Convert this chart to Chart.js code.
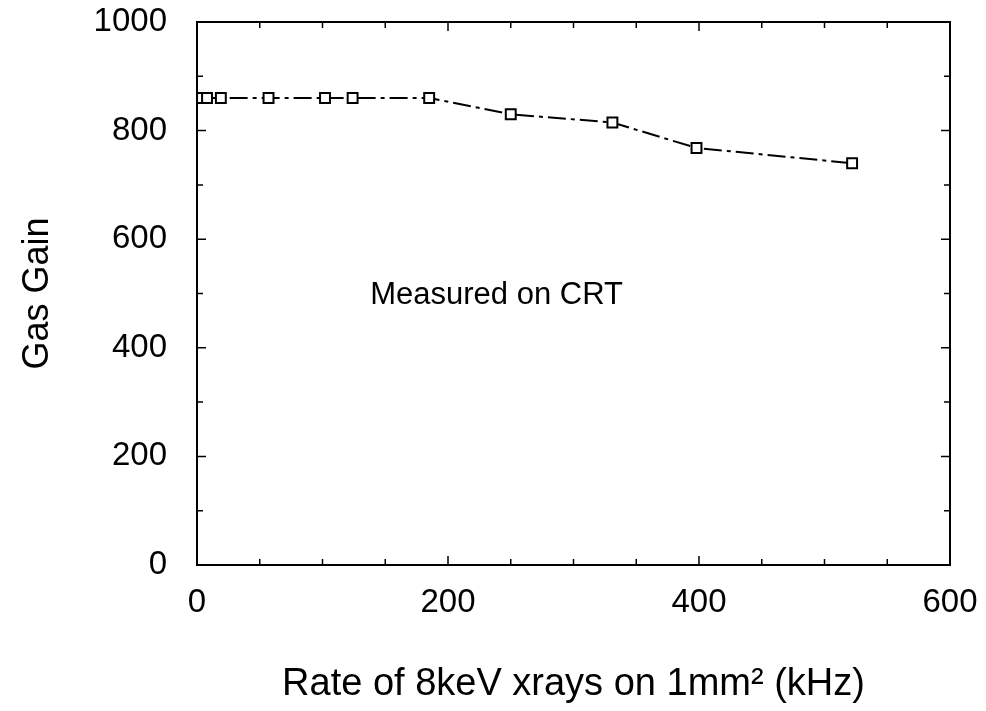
<!DOCTYPE html>
<html>
<head>
<meta charset="utf-8">
<script src="https://cdn.jsdelivr.net/npm/chart.js@4.4.1/dist/chart.umd.min.js"></script>
<style>
  html, body { margin: 0; padding: 0; background: #fff; }
  #wrap { width: 986px; height: 711px; }
</style>
</head>
<body>
<div id="wrap"><canvas id="chart" width="986" height="711"></canvas></div>
<script>
// data
const rates = [0.5, 2, 4, 8, 19, 57, 102, 124, 185, 250, 331, 398, 522];
const gains = [860, 860, 860, 860, 860, 860, 860, 860, 860, 830, 815, 768, 740];
const xTicks = [0, 200, 400, 600];
const yTicks = [0, 200, 400, 600, 800, 1000];

const FONT = '"Liberation Sans", Arial, sans-serif';

// frame + inward ticks on all four sides, plus the text note
const framePlugin = {
  id: 'frame',
  afterDraw(chart) {
    const { ctx, chartArea: a, scales } = chart;
    ctx.save();
    ctx.strokeStyle = '#000';
    ctx.lineWidth = 2;
    ctx.strokeRect(a.left, a.top, a.right - a.left, a.bottom - a.top);
    ctx.lineWidth = 1.5;
    ctx.beginPath();
    for (let v = 0; v <= 600; v += 50) {
      const px = scales.x.getPixelForValue(v);
      const len = v % 200 === 0 ? 9 : 6;
      ctx.moveTo(px, a.bottom); ctx.lineTo(px, a.bottom - len);
      ctx.moveTo(px, a.top); ctx.lineTo(px, a.top + len);
    }
    for (let v = 0; v <= 1000; v += 100) {
      const py = scales.y.getPixelForValue(v);
      const len = v % 200 === 0 ? 9 : 6;
      ctx.moveTo(a.left, py); ctx.lineTo(a.left + len, py);
      ctx.moveTo(a.right, py); ctx.lineTo(a.right - len, py);
    }
    ctx.stroke();

    ctx.fillStyle = '#000';
    ctx.font = '31px ' + FONT;
    ctx.textAlign = 'left';
    ctx.textBaseline = 'middle';
    ctx.fillText('Measured on CRT', scales.x.getPixelForValue(138), scales.y.getPixelForValue(497));
    ctx.restore();
  }
};

new Chart(document.getElementById('chart').getContext('2d'), {
  type: 'scatter',
  data: {
    datasets: [{
      data: rates.map((r, i) => ({ x: r, y: gains[i] })),
      showLine: true,
      borderColor: '#000',
      borderWidth: 2,
      borderDash: [18, 5, 4, 5],
      pointStyle: 'rect',
      pointRadius: 7,
      pointBorderWidth: 2,
      pointBorderColor: '#000',
      pointBackgroundColor: '#fff',
      tension: 0
    }]
  },
  options: {
    responsive: false,
    animation: false,
    layout: { padding: { top: 22, right: 36, left: 0, bottom: 0 } },
    plugins: { legend: { display: false }, tooltip: { enabled: false } },
    scales: {
      x: {
        type: 'linear',
        min: 0, max: 600,
        afterBuildTicks: s => { s.ticks = xTicks.map(v => ({ value: v })); },
        afterFit: s => { s.height = 146; s.paddingLeft = 0; s.paddingRight = 0; },
        grid: { display: false },
        border: { display: false },
        ticks: { color: '#000', font: { family: FONT, size: 33 }, padding: 10, callback: v => String(v) },
        title: {
          display: true,
          text: 'Rate of 8keV xrays on 1mm\u00B2 (kHz)',
          color: '#000',
          font: { family: FONT, size: 38 },
          padding: { top: 40 }
        }
      },
      y: {
        type: 'linear',
        min: 0, max: 1000,
        afterBuildTicks: s => { s.ticks = yTicks.map(v => ({ value: v })); },
        afterFit: s => { s.width = 197; s.paddingTop = 0; s.paddingBottom = 0; },
        grid: { display: false },
        border: { display: false },
        ticks: { color: '#000', font: { family: FONT, size: 33 }, padding: 22, callback: v => String(v) },
        title: {
          display: true,
          text: 'Gas Gain',
          color: '#000',
          font: { family: FONT, size: 36 },
          padding: { top: 16 }
        }
      }
    }
  },
  plugins: [framePlugin]
});
</script>
</body>
</html>
